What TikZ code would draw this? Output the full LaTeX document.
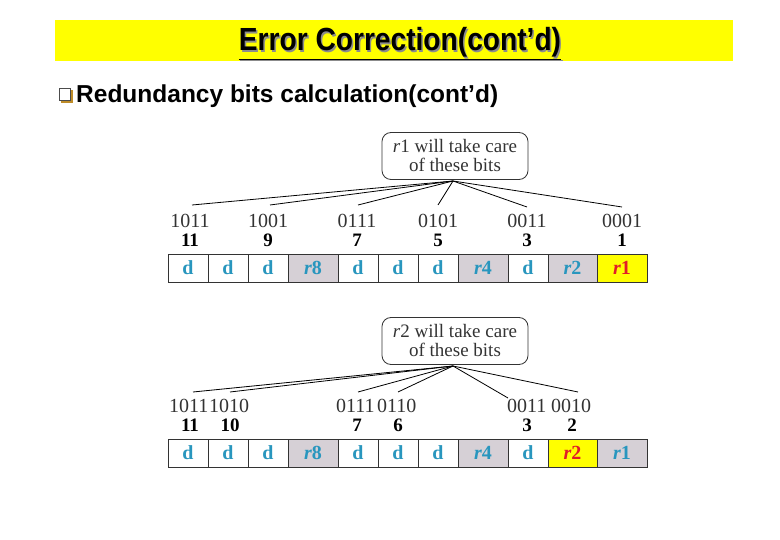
\documentclass[tikz,border=0pt]{standalone}
\usepackage{fontspec}
\setmainfont{Liberation Serif}
\newfontfamily\arialfont{Liberation Sans}
\definecolor{titleyellow}{RGB}{255,255,0}
\definecolor{dblue}{RGB}{40,150,190}
\definecolor{rgrey}{RGB}{214,208,214}
\definecolor{rred}{RGB}{225,30,40}
\definecolor{boxgold}{RGB}{190,140,40}
\tikzset{
  cellbox/.style={draw=black!80, line width=0.8pt, minimum height=28pt, inner sep=0pt, font=\fontsize{20}{20}\selectfont\bfseries, text=dblue},
  dcell/.style={cellbox, fill=white},
  rcell/.style={cellbox, fill=rgrey},
  hcell/.style={cellbox, fill=titleyellow, text=rred},
  binlbl/.style={font=\fontsize{20}{20}\selectfont, text=black!80, inner sep=0pt},
  numlbl/.style={font=\fontsize{19}{19}\selectfont\bfseries, inner sep=0pt},
  callout/.style={draw=black!80, line width=0.8pt, rounded corners=9pt, minimum width=146pt, minimum height=47pt, align=center, font=\fontsize{19}{19}\selectfont, text=black!80, inner sep=0pt},
  conn/.style={draw=black, line width=0.8pt}
}
\newcommand{\rr}[1]{\textit{r}#1}
\newcommand{\titletext}{\scalebox{0.88}[1]{\underline{Error Correction(cont’d)}}}
\begin{document}
\begin{tikzpicture}[x=1pt,y=-1pt]
\useasboundingbox (0,0) rectangle (780,540);
% title
\fill[titleyellow] (55,20) rectangle (733,61);
\node[text=black!45, font=\arialfont\bfseries\fontsize{32}{32}\selectfont, inner sep=0pt] (titleshadow) at (401.5,45) {\titletext};
\node[font=\arialfont\bfseries\fontsize{32}{32}\selectfont, inner sep=0pt] (title) at (400,43.5) {\titletext};
% bullet
\fill[boxgold] (61,90) rectangle (73,103);
\draw[fill=white, draw=black!70, line width=0.7pt] (59,88) rectangle (70,100);
\node[anchor=west, font=\arialfont\bfseries\fontsize{24.5}{24.5}\selectfont, inner sep=0pt] (sub) at (76,96) {Redundancy bits calculation(cont’d)};

% cell rows
\foreach \row/\yc/\hi in {1/268/11, 2/453/10}{
  \foreach \i/\xa/\xb/\lbl/\kind in {1/168/208/d/d, 2/208/248/d/d, 3/248/288/d/d, 4/288/338/\rr{8}/r, 5/338/378/d/d, 6/378/418/d/d, 7/418/458/d/d, 8/458/508/\rr{4}/r, 9/508/548/d/d, 10/548/597/\rr{2}/r, 11/597/647/\rr{1}/r}{
    \ifnum\i=\hi
      \node[hcell, minimum width={(\xb-\xa)*1pt}] (c\row-\i) at ({(\xa+\xb)/2},\yc) {\lbl};
    \else
      \if d\kind
        \node[dcell, minimum width={(\xb-\xa)*1pt}] (c\row-\i) at ({(\xa+\xb)/2},\yc) {\lbl};
      \else
        \node[rcell, minimum width={(\xb-\xa)*1pt}] (c\row-\i) at ({(\xa+\xb)/2},\yc) {\lbl};
      \fi
    \fi
  }
}

% ---------- upper diagram ----------
\node[callout] (call1) at (455,156) {\rr{1} will take care\\of these bits};
\coordinate (hub1) at (453,181);
\foreach \n/\x/\b in {a/190/1011, b/268/1001, c/357/0111, d/438/0101, e/527/0011, f/622/0001}{
  \node[binlbl] (bin1\n) at (\x,221) {\b};
}
\foreach \n/\x/\v in {a/190/11, b/268/9, c/357/7, d/438/5, e/527/3, f/622/1}{
  \node[numlbl] (num1\n) at (\x,240) {\v};
}
\coordinate (e1a) at (192,205);
\coordinate (e1b) at (270,205);
\coordinate (e1c) at (358,205);
\coordinate (e1d) at (438,205);
\coordinate (e1e) at (527,207);
\coordinate (e1f) at (622,207);
\foreach \n in {a,b,c,d,e,f}{ \draw[conn] (hub1) -- (e1\n); }

% ---------- lower diagram ----------
\node[callout] (call2) at (455,341) {\rr{2} will take care\\of these bits};
\coordinate (hub2) at (453,366);
\node[binlbl, anchor=west] (bin2a) at (169,406) {1011};
\node[binlbl, anchor=west] (bin2b) at (209,406) {1010};
\node[binlbl, anchor=west] (bin2c) at (336,406) {0111};
\node[binlbl, anchor=west] (bin2d) at (377,406) {0110};
\node[binlbl, anchor=west] (bin2e) at (507,406) {0011};
\node[binlbl, anchor=west] (bin2f) at (551,406) {0010};
\foreach \n/\x/\v in {a/190/11, b/230/10, c/357/7, d/398/6, e/527/3, f/572/2}{
  \node[numlbl] (num2\n) at (\x,425) {\v};
}
\coordinate (e2a) at (193,392);
\coordinate (e2b) at (230,392);
\coordinate (e2c) at (358,392);
\coordinate (e2d) at (398,392);
\coordinate (e2e) at (508,398);
\coordinate (e2f) at (578,392);
\foreach \n in {a,b,c,d,e,f}{ \draw[conn] (hub2) -- (e2\n); }
\end{tikzpicture}
\end{document}
